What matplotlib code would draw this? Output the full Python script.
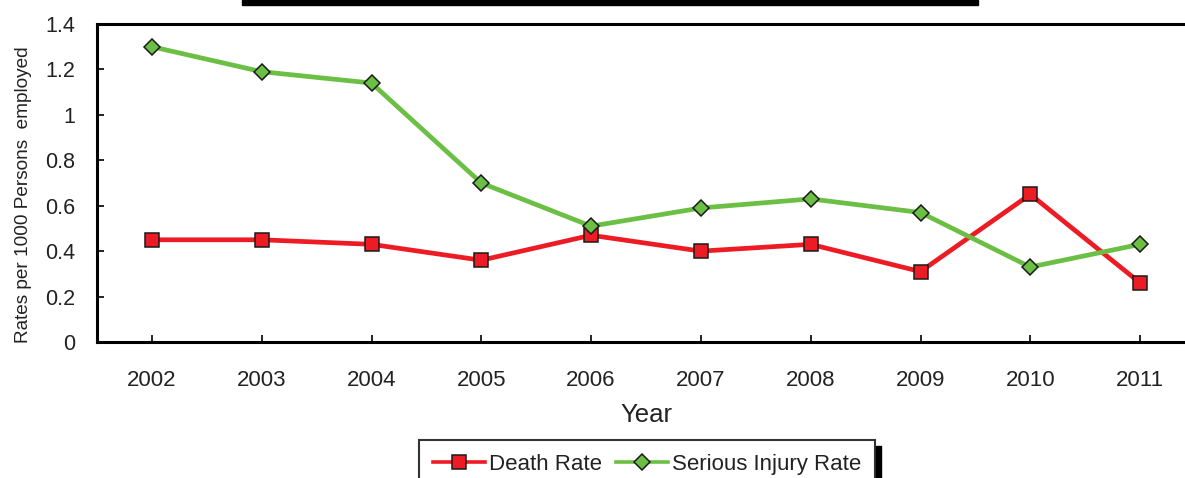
import matplotlib
matplotlib.use("Agg")
import matplotlib.pyplot as plt
from matplotlib.patches import Rectangle

years = ["2002", "2003", "2004", "2005", "2006", "2007", "2008", "2009", "2010", "2011"]
death_rate = [0.45, 0.45, 0.43, 0.36, 0.47, 0.40, 0.43, 0.31, 0.65, 0.26]
injury_rate = [1.30, 1.19, 1.14, 0.70, 0.51, 0.59, 0.63, 0.57, 0.33, 0.43]
y_ticks = [0, 0.2, 0.4, 0.6, 0.8, 1, 1.2, 1.4]
y_tick_labels = ["0", "0.2", "0.4", "0.6", "0.8", "1", "1.2", "1.4"]

plt.rcParams["font.family"] = ["Liberation Sans", "DejaVu Sans"]

W, H = 1185, 478
fig = plt.figure(figsize=(W / 100, H / 100), dpi=100)

# plot area: left 97px, top 24px, bottom 342px, right runs past the edge
left, right, top, bottom = 97, 1195, 24, 342
ax = fig.add_axes([left / W, 1 - bottom / H, (right - left) / W, (bottom - top) / H])

x = list(range(len(years)))
red = "#ED1C24"
green = "#6CBF45"
ax.plot(x, death_rate, color=red, lw=3.4, marker="s", ms=10,
        mfc=red, mec="#1a1a1a", mew=1.1, label="Death Rate", zorder=3)
ax.plot(x, injury_rate, color=green, lw=3.4, marker="D", ms=8,
        mfc=green, mec="#1a1a1a", mew=1.1, label="Serious Injury Rate", zorder=3)

ax.set_xlim(-0.5, len(years) - 0.5)
ax.set_ylim(0, 1.4)
ax.set_xticks(x)
ax.set_xticklabels(years)
ax.set_yticks(y_ticks)
ax.set_yticklabels(y_tick_labels)

for side in ("left", "bottom", "top"):
    ax.spines[side].set_linewidth(2.2)
    ax.spines[side].set_color("black")
ax.spines["right"].set_visible(False)

ax.tick_params(axis="x", direction="in", length=5, width=1.2, pad=20.5,
               labelsize=16, colors="black", labelcolor="#222222")
ax.tick_params(axis="y", direction="in", length=5, width=1.2, pad=16,
               labelsize=15.5, colors="black", labelcolor="#222222")

ax.set_xlabel("Year", fontsize=18.5, color="#222222", labelpad=8)
ax.set_ylabel("Rates per 1000 Persons  employed", fontsize=13.7, color="#222222",
              labelpad=9, y=0.462)

leg = fig.legend(loc="upper center", bbox_to_anchor=(647 / W, 1 - 440 / H),
                 ncol=2, fontsize=16, frameon=True, fancybox=False,
                 edgecolor="black", handlelength=2.35, columnspacing=0.65,
                 handletextpad=0.15, borderpad=0.63, borderaxespad=0,
                 labelcolor="#222222")
leg.get_frame().set_linewidth(1.5)
leg.set_zorder(5)
for handle in leg.legend_handles:
    handle.set_linewidth(2.6)

# drop shadow on the legend's right side
fig.add_artist(Rectangle((876 / W, 0), 5 / W, (H - 446) / H,
                         transform=fig.transFigure, color="black", zorder=4))

# black bar along the top edge
fig.add_artist(Rectangle((242 / W, 1 - 5 / H), (978 - 242) / W, 5 / H,
                         transform=fig.transFigure, color="black", zorder=4))

fig.savefig("out.png", dpi=100)
